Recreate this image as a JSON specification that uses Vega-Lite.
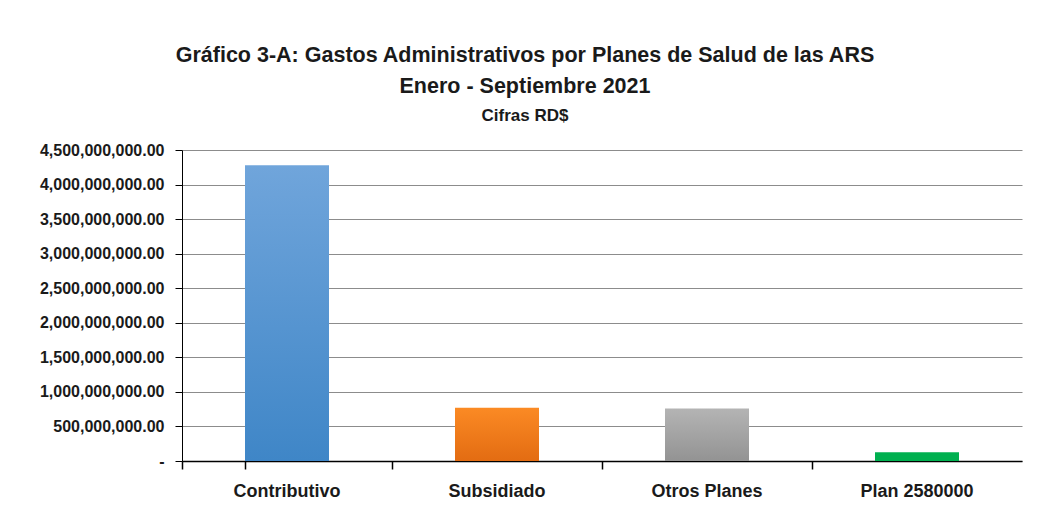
{
  "$schema": "https://vega.github.io/schema/vega-lite/v6.json",
  "autosize": {"type": "none"},
  "width": 840,
  "height": 311,
  "padding": {"left": 182, "top": 150, "right": 19, "bottom": 55},
  "background": "white",
  "title": {
    "text": ["Gráfico 3-A: Gastos Administrativos por Planes de Salud de las ARS", "Enero - Septiembre 2021"],
    "subtitle": "Cifras RD$",
    "anchor": "middle",
    "frame": "group",
    "dx": -77,
    "offset": 18,
    "font": "Liberation Sans",
    "fontSize": 21.5,
    "fontWeight": "bold",
    "color": "#1a1a1a",
    "lineHeight": 31,
    "subtitleFont": "Liberation Sans",
    "subtitleFontSize": 17,
    "subtitleFontWeight": "bold",
    "subtitleColor": "#1a1a1a",
    "subtitlePadding": 11
  },
  "data": {
    "values": [
      {"plan": "Contributivo", "gasto": 4280000000},
      {"plan": "Subsidiado", "gasto": 770000000},
      {"plan": "Otros Planes", "gasto": 760000000},
      {"plan": "Plan 2580000", "gasto": 125000000}
    ]
  },
  "encoding": {
    "x": {
      "field": "plan",
      "type": "nominal",
      "sort": ["Contributivo", "Subsidiado", "Otros Planes", "Plan 2580000"],
      "scale": {"domain": ["Contributivo", "Subsidiado", "Otros Planes", "Plan 2580000"], "paddingInner": 0.6, "paddingOuter": 0.3},
      "axis": {
        "title": null,
        "labelAngle": 0,
        "ticks": true,
        "bandPosition": -0.75,
        "tickExtra": true,
        "tickSize": 8,
        "tickWidth": 1.5,
        "tickColor": "#000000",
        "domainColor": "#000",
        "domainWidth": 1.5,
        "labelPadding": 13,
        "labelFont": "Liberation Sans",
        "labelFontSize": 18,
        "labelFontWeight": "bold",
        "labelColor": "#1a1a1a"
      }
    },
    "y": {
      "field": "gasto",
      "type": "quantitative",
      "scale": {"domain": [0, 4500000000], "nice": false},
      "axis": {
        "title": null,
        "values": [0, 500000000, 1000000000, 1500000000, 2000000000, 2500000000, 3000000000, 3500000000, 4000000000, 4500000000],
        "labelExpr": "datum.value == 0 ? '-' : format(datum.value, ',.2f')",
        "tickSize": 7,
        "tickColor": "#000",
        "domainColor": "#000",
        "labelPadding": 11,
        "labelFont": "Liberation Sans",
        "labelFontSize": 16,
        "labelFontWeight": "bold",
        "labelColor": "#1a1a1a",
        "gridColor": "#8c8c8c",
        "gridWidth": 1
      }
    }
  },
  "layer": [
    {
      "transform": [{"filter": "datum.plan == 'Contributivo'"}],
      "mark": {"type": "bar", "color": {"gradient": "linear", "x1": 0, "y1": 0, "x2": 0, "y2": 1, "stops": [{"offset": 0, "color": "#70a5db"}, {"offset": 1, "color": "#3f86c7"}]}}
    },
    {
      "transform": [{"filter": "datum.plan == 'Subsidiado'"}],
      "mark": {"type": "bar", "color": {"gradient": "linear", "x1": 0, "y1": 0, "x2": 0, "y2": 1, "stops": [{"offset": 0, "color": "#fb8a24"}, {"offset": 1, "color": "#e36c12"}]}}
    },
    {
      "transform": [{"filter": "datum.plan == 'Otros Planes'"}],
      "mark": {"type": "bar", "color": {"gradient": "linear", "x1": 0, "y1": 0, "x2": 0, "y2": 1, "stops": [{"offset": 0, "color": "#b4b4b4"}, {"offset": 1, "color": "#939393"}]}}
    },
    {
      "transform": [{"filter": "datum.plan == 'Plan 2580000'"}],
      "mark": {"type": "bar", "color": "#00b050"}
    }
  ],
  "config": {"view": {"stroke": null}}
}
